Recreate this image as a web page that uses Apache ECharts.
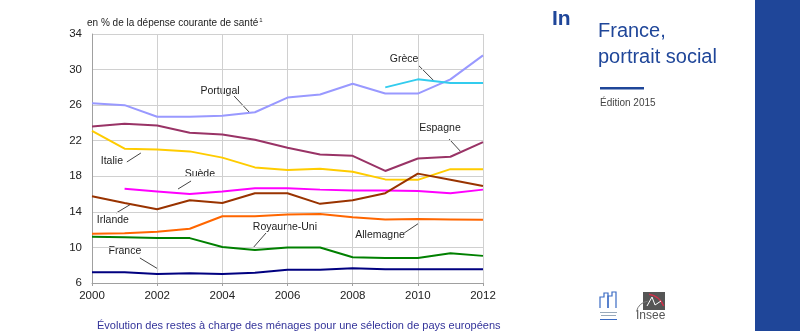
<!DOCTYPE html>
<html><head><meta charset="utf-8">
<script src="https://cdn.jsdelivr.net/npm/echarts@6/dist/echarts.min.js"></script>
<style>html,body{margin:0;padding:0;background:#fff}#c{width:800px;height:331px}</style>
</head><body><div id="c"></div>
<script>
// ---- data ----
const years = [2000,2001,2002,2003,2004,2005,2006,2007,2008,2009,2010,2011,2012];
const portugal   = [26.2,26.0,24.7,24.7,24.8,25.2,26.85,27.2,28.4,27.3,27.3,28.9,31.6];
const grece      = [null,null,null,null,null,null,null,null,null,28.0,28.9,28.5,28.5];
const espagne    = [23.6,23.9,23.7,22.9,22.7,22.1,21.2,20.45,20.3,18.6,20.0,20.2,21.85];
const italie     = [23.1,21.1,21.0,20.8,20.1,19.0,18.7,18.85,18.5,17.65,17.6,18.8,18.8];
const suede      = [null,16.6,16.3,16.0,16.3,16.65,16.65,16.5,16.4,16.4,16.35,16.1,16.5];
const irlande    = [15.75,15.0,14.3,15.3,15.0,16.1,16.1,14.9,15.3,16.1,18.3,17.6,16.9];
const allemagne  = [11.55,11.6,11.75,12.1,13.5,13.5,13.7,13.75,13.4,13.15,13.2,13.15,13.1];
const royaumeUni = [11.2,11.15,11.05,11.05,10.05,9.7,10.0,10.0,8.9,8.8,8.8,9.35,9.05];
const france     = [7.2,7.2,7.0,7.1,7.0,7.15,7.5,7.5,7.65,7.55,7.55,7.55,7.55];
const yTicks = [6,10,14,18,22,26,30,34];
const xTicks = [2000,2002,2004,2006,2008,2010,2012];

const seriesDefs = [
  {name:'Portugal', data:portugal, color:'#9999ff'},
  {name:'Grèce', data:grece, color:'#33ccee'},
  {name:'Espagne', data:espagne, color:'#993366'},
  {name:'Italie', data:italie, color:'#ffcc00'},
  {name:'Suède', data:suede, color:'#ff00ff'},
  {name:'Irlande', data:irlande, color:'#993300'},
  {name:'Allemagne', data:allemagne, color:'#ff6600'},
  {name:'Royaume-Uni', data:royaumeUni, color:'#008000'},
  {name:'France', data:france, color:'#000080'}
];

// annotations: label centre and leader line, in data coordinates
const annotations = [
  {text:'Portugal', at:[2003.93,27.59], line:[[2004.36,27.03],[2004.82,25.23]]},
  {text:'Grèce', at:[2009.58,31.19], line:[[2010.01,30.51],[2010.50,28.71]]},
  {text:'Espagne', at:[2010.68,23.43], line:[[2010.96,22.19],[2011.30,20.84]]},
  {text:'Italie', at:[2000.61,19.72], line:[[2001.07,19.61],[2001.50,20.62]]},
  {text:'Suède', at:[2003.31,18.26], line:[[2002.64,16.57],[2003.04,17.47]]},
  {text:'Irlande', at:[2000.64,13.08], line:[[2000.74,13.87],[2001.20,14.88]]},
  {text:'Royaume-Uni', at:[2005.92,12.30], line:[[2004.94,9.94],[2005.34,11.62]]},
  {text:'France', at:[2001.01,9.60], line:[[2001.47,8.81],[2002.03,7.57]]},
  {text:'Allemagne', at:[2008.84,11.40], line:[[2009.58,11.62],[2010.04,12.75]]}
];

const FONT = '"Liberation Sans", Arial, sans-serif';
const chart = echarts.init(document.getElementById('c'), null, {renderer:'canvas'});

const series = seriesDefs.map(s => ({
  name: s.name, type:'line', symbol:'none', animation:false,
  lineStyle:{color:s.color, width:2},
  itemStyle:{color:s.color},
  data: years.map((y,i)=> s.data[i]==null ? null : [y, s.data[i]]).filter(d=>d)
}));

const panelGraphics = [
  {type:'rect', shape:{x:755,y:0,width:45,height:331}, style:{fill:'#1f4699'}},
  {type:'text', left:552, top:9, style:{text:'In', font:'bold 21px '+FONT, fill:'#1f4699'}},
  {type:'text', left:598, top:21, style:{text:'France,', font:'20px '+FONT, fill:'#1f4699'}},
  {type:'text', left:598, top:47, style:{text:'portrait social', font:'20px '+FONT, fill:'#1f4699'}},
  {type:'rect', shape:{x:600,y:87,width:44,height:2.5}, style:{fill:'#1f4699'}},
  {type:'text', left:600, top:98, style:{text:'Édition 2015', font:'10px '+FONT, fill:'#444'}},
  // statistique publique logo
  {type:'polyline', shape:{points:[[600,308],[600,297],[604,297],[604,293],[608,293],[608,308]]}, style:{stroke:'#3a6bc4', fill:null, lineWidth:1.2}},
  {type:'polyline', shape:{points:[[608,308],[608,296],[612,296],[612,292],[616,292],[616,308]]}, style:{stroke:'#3a6bc4', fill:null, lineWidth:1.2}},
  {type:'rect', shape:{x:600,y:312,width:17,height:1}, style:{fill:'#9ab'}},
  {type:'rect', shape:{x:601,y:315,width:15,height:1}, style:{fill:'#9ab'}},
  {type:'rect', shape:{x:600,y:319,width:17,height:1}, style:{fill:'#3a6bc4'}},
  // insee logo
  {type:'rect', shape:{x:643,y:292,width:22,height:18}, style:{fill:'#555'}},
  {type:'arc', shape:{cx:646,cy:313,r:19,startAngle:-Math.PI*0.45,endAngle:-Math.PI*0.12}, style:{stroke:'#d0304a', fill:null, lineWidth:1.6}},
  {type:'arc', shape:{cx:650,cy:315,r:14,startAngle:Math.PI*1.08,endAngle:Math.PI*1.45}, style:{stroke:'#777', fill:null, lineWidth:1}},
  {type:'polyline', shape:{points:[[647,306],[652,297],[655,305],[661,301]]}, style:{stroke:'#fff', fill:null, lineWidth:1}},
  {type:'text', left:636, top:310, style:{text:'Insee', font:'12px '+FONT, fill:'#555'}}
];

const option = {
  animation:false,
  backgroundColor:'#fff',
  grid:{left:92, right:317, top:34, bottom:48},
  xAxis:{type:'value', min:2000, max:2012, interval:2,
    axisLine:{show:true, lineStyle:{color:'#a0a0a0', width:1}},
    axisTick:{show:true, length:3, lineStyle:{color:'#a0a0a0'}},
    axisLabel:{color:'#222', fontFamily:FONT, fontSize:11.5, margin:7, formatter:v=>String(v)},
    splitLine:{show:true, lineStyle:{color:'#d0d0d0', width:1}}},
  yAxis:{type:'value', min:6, max:34, interval:4,
    axisLine:{show:true, lineStyle:{color:'#a0a0a0', width:1}},
    axisTick:{show:false},
    axisLabel:{color:'#222', fontFamily:FONT, fontSize:11.5, margin:10},
    splitLine:{show:true, lineStyle:{color:'#d0d0d0', width:1}}},
  title:[
    {text:'en % de la dépense courante de santé{s|1}', left:82, top:12,
      textStyle:{fontFamily:FONT, fontSize:10, fontWeight:'normal', color:'#222', rich:{s:{fontSize:6, verticalAlign:'top', padding:[0,0,6,1], fontFamily:FONT, color:'#222'}}}},
    {text:'Évolution des restes à charge des ménages pour une sélection de pays européens', left:92, top:315,
      textStyle:{fontFamily:FONT, fontSize:11, fontWeight:'normal', color:'#33339a'}}
  ],
  series: series,
  graphic: panelGraphics
};
chart.setOption(option);

// annotation labels placed via the chart's own coordinate conversion
const annGraphics = [];
annotations.forEach(a=>{
  const p = chart.convertToPixel({gridIndex:0}, a.at);
  const l0 = chart.convertToPixel({gridIndex:0}, a.line[0]);
  const l1 = chart.convertToPixel({gridIndex:0}, a.line[1]);
  annGraphics.push({type:'text', x:p[0], y:p[1], style:{text:a.text, font:'10.5px '+FONT, fill:'#222', align:'center', verticalAlign:'middle'}});
  annGraphics.push({type:'line', shape:{x1:l0[0],y1:l0[1],x2:l1[0],y2:l1[1]}, style:{stroke:'#444', lineWidth:1}});
});
chart.setOption({graphic: panelGraphics.concat(annGraphics)});
</script>
</body></html>
